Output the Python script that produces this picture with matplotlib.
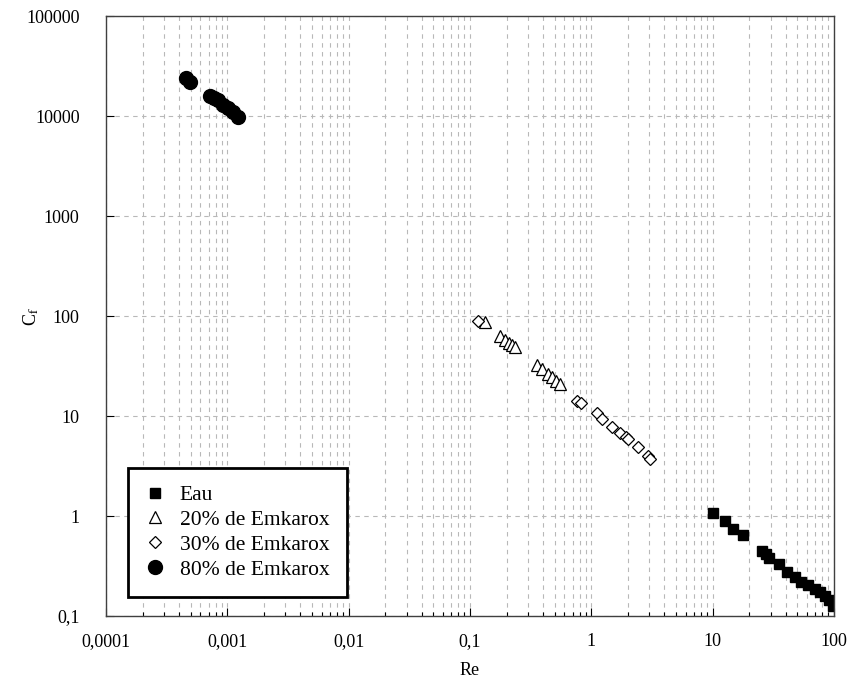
import matplotlib
matplotlib.use('Agg')
import matplotlib.pyplot as plt
from matplotlib.ticker import FuncFormatter, LogLocator, NullFormatter

plt.rcParams['font.family'] = 'Liberation Serif'
plt.rcParams['mathtext.fontset'] = 'stix'
plt.rcParams['font.size'] = 13

# Eau
re_eau = [10.0, 12.6, 14.7, 17.8, 25.5, 27.5, 29.1, 35.2, 41.0, 47.7, 53.5, 61.0,
          69.8, 76.7, 84.4, 91.0, 98.4]
cf_eau = [1.07, 0.89, 0.74, 0.645, 0.447, 0.417, 0.38, 0.331, 0.275, 0.245, 0.219,
          0.204, 0.186, 0.174, 0.158, 0.145, 0.126]

# 20% de Emkarox
re_20 = [0.133, 0.177, 0.194, 0.21, 0.222, 0.235, 0.357, 0.392, 0.44, 0.474, 0.512, 0.552]
cf_20 = [87, 63, 57.5, 53.7, 51.3, 49, 32.4, 29.5, 26.3, 24.5, 22.4, 20.9]

# 30% de Emkarox
re_30 = [0.1164, 0.762, 0.822, 1.114, 1.225, 1.48, 1.72, 1.93, 2.0, 2.43, 2.93, 3.05]
cf_30 = [89, 14.1, 13.5, 10.7, 9.3, 7.76, 6.76, 6.17, 5.89, 4.9, 3.98, 3.72]

# 80% de Emkarox
re_80 = [4.56e-4, 4.92e-4, 7.2e-4, 7.76e-4, 8.4e-4, 9.2e-4, 1.01e-3, 1.11e-3, 1.22e-3]
cf_80 = [24000, 21900, 15850, 15100, 14450, 12900, 12000, 10960, 9770]


def comma_fmt(v, pos):
    s = ('%.4f' % v).rstrip('0').rstrip('.')
    return s.replace('.', ',')


fig = plt.figure(figsize=(8.51, 6.93), dpi=100)
ax = fig.add_axes([0.1246, 0.1111, 0.8554, 0.8658])

ax.plot(re_eau, cf_eau, 's', color='black', markersize=7, label='Eau')
ax.plot(re_20, cf_20, '^', markerfacecolor='white', markeredgecolor='black',
        markeredgewidth=0.9, markersize=9, label='20% de Emkarox')
ax.plot(re_30, cf_30, 'D', markerfacecolor='white', markeredgecolor='black',
        markeredgewidth=0.9, markersize=6.5, label='30% de Emkarox')
ax.plot(re_80, cf_80, 'o', color='black', markersize=10, label='80% de Emkarox')

ax.set_xscale('log')
ax.set_yscale('log')
ax.set_xlim(1e-4, 100)
ax.set_ylim(0.1, 1e5)

ax.xaxis.set_major_locator(LogLocator(base=10, numticks=10))
ax.xaxis.set_minor_locator(LogLocator(base=10, subs=range(2, 10), numticks=100))
ax.xaxis.set_minor_formatter(NullFormatter())
ax.yaxis.set_major_locator(LogLocator(base=10, numticks=10))
ax.yaxis.set_minor_locator(plt.NullLocator())
ax.xaxis.set_major_formatter(FuncFormatter(comma_fmt))
ax.yaxis.set_major_formatter(FuncFormatter(comma_fmt))

ax.tick_params(which='major', direction='in', length=6, width=0.8)
ax.tick_params(which='minor', direction='in', length=3, width=0.8)
ax.tick_params(axis='x', which='major', pad=12)
ax.tick_params(axis='y', which='major', pad=19)

ax.grid(True, which='major', axis='both', linestyle=(0, (4, 4)), color='#b8b8b8', linewidth=0.8)
ax.grid(True, which='minor', axis='x', linestyle=(0, (4, 4)), color='#b8b8b8', linewidth=0.8)
ax.set_axisbelow(True)

for sp in ax.spines.values():
    sp.set_color('#404040')
    sp.set_linewidth(1.0)

ax.set_xlabel('Re')
ax.set_ylabel(r'C$_\mathrm{f}$')
ax.xaxis.set_label_coords(0.5, -0.077)
ax.yaxis.set_label_coords(-0.089, 0.5)

leg = ax.legend(loc='lower left', bbox_to_anchor=(0.03, 0.032), fancybox=False,
                edgecolor='black', framealpha=1, borderpad=0.8, labelspacing=0.22,
                handletextpad=0.7, borderaxespad=0, handlelength=0.9, fontsize=15.5)
leg.get_frame().set_linewidth(2)

fig.savefig('out.png', dpi=100)
